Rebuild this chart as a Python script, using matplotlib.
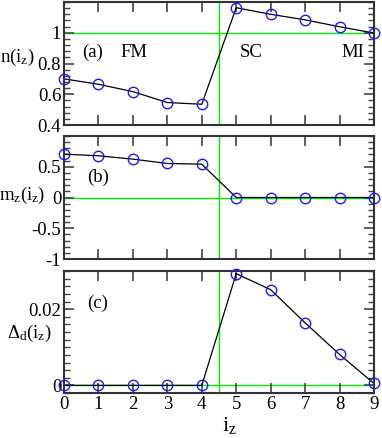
import matplotlib
matplotlib.use("Agg")
import matplotlib.pyplot as plt
from matplotlib.ticker import MultipleLocator

# layer index along z
iz = [0, 1, 2, 3, 4, 5, 6, 7, 8, 9]
# (a) density per layer
n_iz = [0.70, 0.665, 0.617, 0.546, 0.535, 1.163, 1.12, 1.084, 1.039, 0.998]
# (b) magnetization per layer
mz_iz = [0.705, 0.678, 0.624, 0.553, 0.542, 0.0, 0.0, 0.0, 0.0, 0.0]
# (c) d-wave gap per layer
delta_iz = [0.0, 0.0, 0.0, 0.0, 0.0, 0.0293, 0.0251, 0.0164, 0.0081, 0.0005]

plt.rcParams["font.family"] = ["Liberation Serif", "DejaVu Serif"]
plt.rcParams["mathtext.fontset"] = "custom"
plt.rcParams["mathtext.rm"] = "Liberation Serif"
plt.rcParams["mathtext.it"] = "Liberation Serif:italic"
plt.rcParams["axes.unicode_minus"] = False

fig = plt.figure(figsize=(3.82, 4.38), dpi=100)
W, H = 382, 438
left, right = 64, 374
boxes = [(2, 125), (136, 259), (271, 393)]  # pixel top/bottom of each panel

green = "#00ee00"
axes = []
for top, bot in boxes:
    ax = fig.add_axes([left / W, 1 - bot / H, (right - left) / W, (bot - top) / H])
    axes.append(ax)

panels = [
    (axes[0], n_iz, (0.4, 1.2), [0.4, 0.6, 0.8, 1.0], ["0.4", "0.6", "0.8", "1"], 0.04, 1.0,
     r"n(i$_\mathrm{z}$)", (-0.152, 0.55)),
    (axes[1], mz_iz, (-1.0, 1.0), [-1.0, -0.5, 0.0, 0.5], ["-1", "-0.5", "0", "0.5"], 0.1, 0.0,
     r"m$_\mathrm{z}$(i$_\mathrm{z}$)", (-0.135, 0.52)),
    (axes[2], delta_iz, (-0.002, 0.03), [0.0, 0.02], ["0", "0.02"], 0.002, 0.0,
     r"$\Delta_\mathrm{d}$(i$_\mathrm{z}$)", (-0.113, 0.49)),
]

for ax, vals, ylim, yt, ytl, minor, href, ylab, lab_xy in panels:
    ax.axhline(href, color=green, lw=1.0, zorder=1)
    ax.axvline(4.5, color=green, lw=1.0, zorder=1)
    ax.plot(iz, vals, color="black", lw=0.9, zorder=2)
    ax.plot(iz, vals, ls="none", marker="o", ms=7.5, mfc="none", mec="#1a1aff",
            mew=1.0, zorder=3, clip_on=False)
    ax.set_xlim(0, 9)
    ax.set_ylim(*ylim)
    ax.set_xticks(iz)
    ax.set_yticks(yt)
    ax.set_yticklabels(ytl)
    ax.yaxis.set_minor_locator(MultipleLocator(minor))
    ax.tick_params(which="both", direction="in", top=True, right=True,
                   color="#444444", labelsize=13.5, pad=2)
    ax.tick_params(which="major", length=7, width=1.2)
    ax.tick_params(which="minor", length=4, width=1.0)
    for sp in ax.spines.values():
        sp.set_linewidth(1.5)
        sp.set_color("#333333")
    ax.set_ylabel(ylab, rotation=0, fontsize=13.5, ha="center", va="center")
    ax.yaxis.set_label_coords(*lab_xy)

axes[0].tick_params(labelbottom=False)
axes[1].tick_params(labelbottom=False)

axes[0].text(0.83, 0.87, "(a)", fontsize=13.5, ha="center", va="center")
axes[0].text(2.03, 0.87, "FM", fontsize=13.5, ha="center", va="center")
axes[0].text(5.43, 0.87, "SC", fontsize=13.5, ha="center", va="center")
axes[0].text(8.38, 0.87, "MI", fontsize=13.5, ha="center", va="center")
axes[1].text(0.99, 0.33, "(b)", fontsize=13.5, ha="center", va="center")
axes[2].text(0.97, 0.0216, "(c)", fontsize=13.5, ha="center", va="center")

axes[2].set_xlabel(r"i$_\mathrm{z}$", fontsize=16, ha="center", va="center")
axes[2].xaxis.set_label_coords(0.535, -0.27)

fig.savefig("out.png", dpi=100)
